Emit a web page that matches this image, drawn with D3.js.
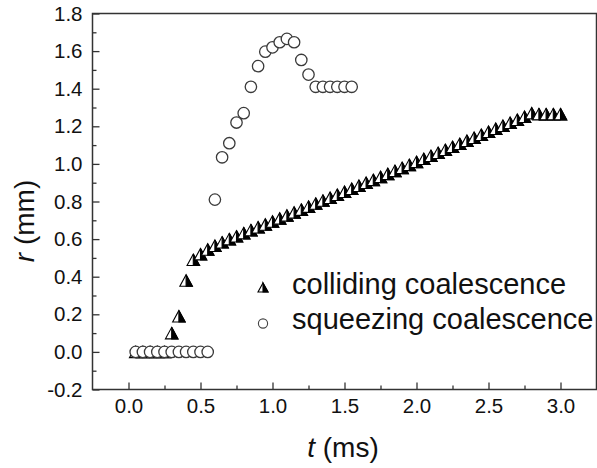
<!DOCTYPE html>
<html>
<head>
<meta charset="utf-8">
<script src="https://cdn.jsdelivr.net/npm/d3@7"></script>
<style>
  html, body { margin: 0; padding: 0; background: #fff; }
  svg { display: block; }
  text { font-family: "Liberation Sans", Arial, sans-serif; fill: #111; }
</style>
</head>
<body>
<svg id="chart" width="597" height="468"></svg>
<script>
// ---------- data ----------
const collideT = [0.05,0.10,0.15,0.20,0.25,0.30,0.35,0.40,0.45,0.50,0.55,0.60,0.65,0.70,0.75,0.80,0.85,0.90,0.95,1.00,
  1.05,1.10,1.15,1.20,1.25,1.30,1.35,1.40,1.45,1.50,1.55,1.60,1.65,1.70,1.75,1.80,1.85,1.90,1.95,2.00,
  2.05,2.10,2.15,2.20,2.25,2.30,2.35,2.40,2.45,2.50,2.55,2.60,2.65,2.70,2.75,2.80,2.85,2.90,2.95,3.00];
const collideR = [0,0,0,0,0,0.10,0.19,0.38,0.49,
  0.520,0.545,0.565,0.583,0.600,0.615,0.632,0.648,0.663,0.678,
  0.694,0.710,0.726,0.742,0.757,0.773,0.789,0.805,0.820,0.836,
  0.852,0.868,0.884,0.900,0.915,0.931,0.947,0.963,0.979,0.995,
  1.011,1.027,1.043,1.059,1.075,1.091,1.107,1.123,1.139,1.155,
  1.171,1.187,1.203,1.219,1.235,1.251,1.270,
  1.265,1.265,1.265,1.265];

const squeezeT = [0.05,0.10,0.15,0.20,0.25,0.30,0.35,0.40,0.45,0.50,0.55,
  0.60,0.65,0.70,0.75,0.80,0.85,0.90,0.95,1.00,1.05,1.10,1.15,1.20,1.25,1.30,1.35,1.40,1.45,1.50,1.55];
const squeezeR = [0,0,0,0,0,0,0,0,0,0,0,
  0.81,1.035,1.11,1.22,1.27,1.41,1.52,1.597,1.62,1.647,1.665,1.647,1.553,1.475,1.41,1.41,1.41,1.41,1.41,1.41];

const xTicks = [0,0.5,1.0,1.5,2.0,2.5,3.0];
const xTickLabels = ["0.0","0.5","1.0","1.5","2.0","2.5","3.0"];
const xMinor = [0.25,0.75,1.25,1.75,2.25,2.75];
const yTicks = [-0.2,0,0.2,0.4,0.6,0.8,1.0,1.2,1.4,1.6,1.8];
const yTickLabels = ["-0.2","0.0","0.2","0.4","0.6","0.8","1.0","1.2","1.4","1.6","1.8"];
const yMinor = [-0.1,0.1,0.3,0.5,0.7,0.9,1.1,1.3,1.5,1.7];
const legendLabels = ["colliding coalescence","squeezing coalescence"];

// ---------- layout ----------
const svg = d3.select("#chart");
const x = d3.scaleLinear().domain([-0.25, 3.25]).range([92.5, 596.5]);
const y = d3.scaleLinear().domain([-0.2, 1.8]).range([389.5, 13.5]);
const axisColor = "#333";

// axes
const gx = svg.append("g").attr("transform", `translate(0,${y(-0.2)})`)
  .call(d3.axisBottom(x).tickValues(xTicks).tickSize(-7).tickPadding(9)
    .tickFormat((d,i) => xTickLabels[i]));
const gxm = svg.append("g").attr("transform", `translate(0,${y(-0.2)})`)
  .call(d3.axisBottom(x).tickValues(xMinor).tickSize(-4).tickFormat(""));
const gy = svg.append("g").attr("transform", `translate(${x(-0.25)},0)`)
  .call(d3.axisLeft(y).tickValues(yTicks).tickSize(-7).tickPadding(10)
    .tickFormat((d,i) => yTickLabels[i]));
const gym = svg.append("g").attr("transform", `translate(${x(-0.25)},0)`)
  .call(d3.axisLeft(y).tickValues(yMinor).tickSize(-4).tickFormat(""));
[gx,gxm,gy,gym].forEach(g => {
  g.select(".domain").remove();
  g.selectAll("line").attr("stroke", axisColor).attr("stroke-width", 1.3);
  g.selectAll("text").style("font-size", "20.5px").attr("fill", "#111")
    .style("font-family", '"Liberation Sans", Arial, sans-serif');
});

// frame
svg.append("rect")
  .attr("x", x(-0.25)).attr("y", y(1.8))
  .attr("width", x(3.25) - x(-0.25)).attr("height", y(-0.2) - y(1.8))
  .attr("fill", "none").attr("stroke", axisColor).attr("stroke-width", 1.5);

// markers
function halfTriangle(g, cx, cy, w, h) {
  const t = g.append("g").attr("transform", `translate(${cx},${cy})`);
  t.append("path")
    .attr("d", `M0,${-h/2} L${w/2},${h/2} L${-w/2},${h/2} Z`)
    .attr("fill", "#fff").attr("stroke", "#000").attr("stroke-width", 1.1)
    .attr("stroke-linejoin", "miter");
  t.append("path")
    .attr("d", `M0,${-h/2} L${w/2},${h/2} L0,${h/2} Z`)
    .attr("fill", "#000").attr("stroke", "#000").attr("stroke-width", 1.1);
}

const collideData = collideT.map((t,i) => ({t, r: collideR[i]}));
const squeezeData = squeezeT.map((t,i) => ({t, r: squeezeR[i]}));

const gTri = svg.append("g");
collideData.forEach(d => halfTriangle(gTri, x(d.t), y(d.r), 12.5, 11.5));

svg.append("g").selectAll("circle").data(squeezeData).join("circle")
  .attr("cx", d => x(d.t)).attr("cy", d => y(d.r)).attr("r", 5.7)
  .attr("fill", "#fff").attr("stroke", "#3a3a3a").attr("stroke-width", 1.3);

// legend
halfTriangle(svg, 263, 287.5, 10, 9);
svg.append("circle").attr("cx", 263).attr("cy", 323.5).attr("r", 4.6)
  .attr("fill", "#fff").attr("stroke", "#444").attr("stroke-width", 1.1);
svg.append("text").attr("x", 292).attr("y", 294).style("font-size", "29px").text(legendLabels[0]);
svg.append("text").attr("x", 292).attr("y", 329).style("font-size", "29px").text(legendLabels[1]);

// axis titles
const xt = svg.append("text").attr("x", 343).attr("y", 457).attr("text-anchor", "middle").style("font-size", "28px");
xt.append("tspan").style("font-style", "italic").text("t");
xt.append("tspan").text(" (ms)");

const yt = svg.append("text").attr("transform", "translate(34,221) rotate(-90)")
  .attr("text-anchor", "middle").style("font-size", "28px");
yt.append("tspan").style("font-style", "italic").text("r");
yt.append("tspan").text(" (mm)");
</script>
</body>
</html>
